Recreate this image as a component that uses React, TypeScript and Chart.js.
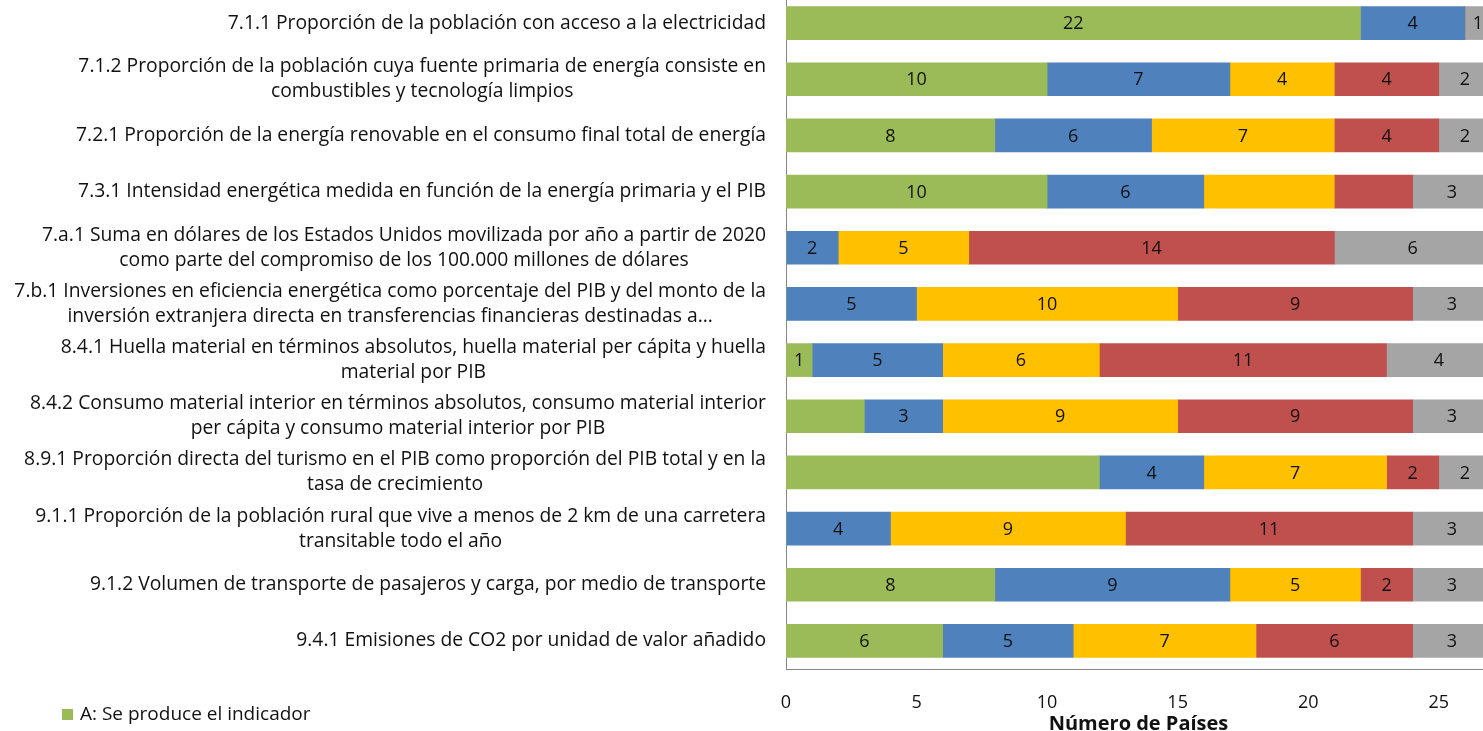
import React, { useEffect, useRef } from "react";
import { Chart, registerables } from "chart.js";

Chart.register(...registerables);

const categories: (string | string[])[] = [
  "7.1.1 Proporción de la población con acceso a la electricidad",
  ["7.1.2 Proporción de la población cuya fuente primaria de energía consiste en", "combustibles y tecnología limpios"],
  "7.2.1 Proporción de la energía renovable en el consumo final total de energía",
  "7.3.1 Intensidad energética medida en función de la energía primaria y el PIB",
  ["7.a.1 Suma en dólares de los Estados Unidos movilizada por año a partir de 2020", "como parte del compromiso de los 100.000 millones de dólares"],
  ["7.b.1 Inversiones en eficiencia energética como porcentaje del PIB y del monto de la", "inversión extranjera directa en transferencias financieras destinadas a..."],
  ["8.4.1 Huella material en términos absolutos, huella material per cápita y huella", "material por PIB"],
  ["8.4.2 Consumo material interior en términos absolutos, consumo material interior", "per cápita y consumo material interior por PIB"],
  ["8.9.1 Proporción directa del turismo en el PIB como proporción del PIB total y en la", "tasa de crecimiento"],
  ["9.1.1 Proporción de la población rural que vive a menos de 2 km de una carretera", "transitable todo el año"],
  "9.1.2 Volumen de transporte de pasajeros y carga, por medio de transporte",
  "9.4.1 Emisiones de CO2 por unidad de valor añadido",
];

const seriesNames = ["A: Se produce el indicador", "B", "C", "D", "E"];
const seriesA = [22, 10, 8, 10, 0, 0, 1, 3, 12, 0, 8, 6];
const seriesB = [4, 7, 6, 6, 2, 5, 5, 3, 4, 4, 9, 5];
const seriesC = [0, 4, 7, 5, 5, 10, 6, 9, 7, 9, 5, 7];
const seriesD = [0, 4, 4, 3, 14, 9, 11, 9, 2, 11, 2, 6];
const seriesE = [1, 2, 2, 3, 6, 3, 4, 3, 2, 3, 3, 3];
// [category index, series index] whose value label is not shown in the original
const hiddenLabels: [number, number][] = [
  [3, 2],
  [3, 3],
  [7, 0],
  [8, 0],
];
const xTicks = [0, 5, 10, 15, 20, 25];
const xTitle = "Número de Países";

const colors = ["#9BBB59", "#4F81BD", "#FFC000", "#C0504D", "#A5A5A5"];
const FONT = "'Open Sans', 'Noto Sans', sans-serif";

export default function App() {
  const ref = useRef<HTMLCanvasElement | null>(null);
  useEffect(() => {
    if (!ref.current) return;
    const allSeries = [seriesA, seriesB, seriesC, seriesD, seriesE];

    const customText = {
      id: "customText",
      afterDraw(chart: any) {
        const ctx = chart.ctx;
        const yScale = chart.scales.y;
        ctx.save();
        // y category labels: block right-aligned, lines centered inside the block
        ctx.font = `19.3px ${FONT}`;
        ctx.fillStyle = "#111";
        ctx.textBaseline = "middle";
        ctx.textAlign = "center";
        const lh = 25;
        (chart.data.labels as any[]).forEach((lab, i) => {
          const lines = Array.isArray(lab) ? lab : [lab];
          const w = Math.max(...lines.map((l: string) => ctx.measureText(l).width));
          const right = yScale.right - 20;
          const cx = right - w / 2;
          const cy = yScale.getPixelForValue(i);
          lines.forEach((l: string, k: number) => {
            ctx.fillText(l, cx, cy + (k - (lines.length - 1) / 2) * lh);
          });
        });
        // value labels
        ctx.font = `18px ${FONT}`;
        chart.data.datasets.forEach((ds: any, di: number) => {
          const meta = chart.getDatasetMeta(di);
          meta.data.forEach((el: any, i: number) => {
            const v = ds.data[i];
            if (!v) return;
            if (hiddenLabels.some(([c, s]) => c === i && s === di)) return;
            const p = el.getCenterPoint();
            ctx.fillStyle = "#111";
            ctx.fillText(String(v), p.x, p.y + 1);
          });
        });
        // legend (first entry, visible part)
        const ds0 = chart.data.datasets[0];
        ctx.fillStyle = ds0.backgroundColor;
        ctx.fillRect(62, 715, 11, 11);
        ctx.fillStyle = "#111";
        ctx.textAlign = "left";
        ctx.font = `19px ${FONT}`;
        ctx.fillText(ds0.label, 80, 721);
        ctx.restore();
      },
    };

    const chart = new Chart(ref.current, {
      type: "bar",
      data: {
        labels: categories as any,
        datasets: allSeries.map((d, i) => ({
          label: seriesNames[i],
          data: d,
          backgroundColor: colors[i],
          borderWidth: 0,
          barThickness: 33,
        })),
      },
      options: {
        indexAxis: "y",
        animation: false,
        responsive: true,
        maintainAspectRatio: false,
        layout: { padding: { top: 1, right: 0, bottom: 0, left: 0 } },
        plugins: {
          legend: { display: false },
          tooltip: { enabled: false },
        },
        scales: {
          x: {
            stacked: true,
            min: 0,
            max: 27,
            afterFit: (s: any) => {
              s.height = 70;
            },
            afterBuildTicks: (s: any) => {
              s.ticks = xTicks.map((v) => ({ value: v }));
            },
            grid: { display: false, drawTicks: false },
            border: { display: true, color: "#868686", width: 1 },
            ticks: {
              padding: 23,
              color: "#111",
              font: { family: FONT, size: 18 },
            },
            title: {
              display: true,
              text: xTitle,
              color: "#111",
              font: { family: FONT, size: 20, weight: "bold" },
              padding: { top: 0, bottom: 3 },
            },
          },
          y: {
            stacked: true,
            afterFit: (s: any) => {
              s.width = 786;
            },
            grid: { display: false, drawTicks: false },
            border: { display: true, color: "#868686", width: 1 },
            ticks: { display: false },
          },
        },
      },
      plugins: [customText],
    });
    return () => chart.destroy();
  }, []);

  return (
    <div
      style={{
        position: "fixed",
        left: 0,
        top: 0,
        width: 1483,
        height: 731,
        overflow: "hidden",
        background: "#fff",
      }}
    >
      <div style={{ position: "absolute", left: 0, top: -6, width: 1491, height: 745 }}>
        <canvas ref={ref} />
      </div>
    </div>
  );
}
